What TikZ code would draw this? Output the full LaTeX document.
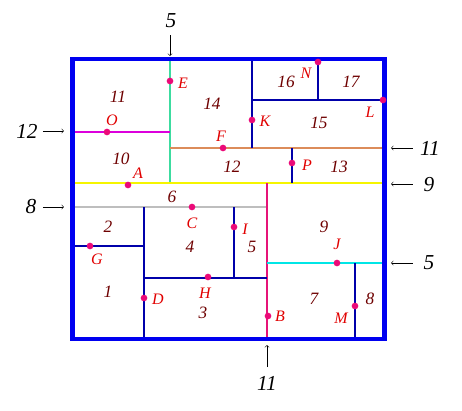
\documentclass[tikz,border=0pt]{standalone}
\usepackage{fontspec}
\setmainfont{Liberation Serif}
\usetikzlibrary{positioning}
\usepackage{xcolor}
\definecolor{frameblue}{RGB}{0,0,240}
\definecolor{wallblue}{RGB}{0,0,170}
\definecolor{dotpink}{RGB}{235,10,120}
\definecolor{letterred}{RGB}{225,0,0}
\definecolor{numred}{RGB}{110,0,0}
\definecolor{cutgreen}{RGB}{60,220,160}
\definecolor{cutmagenta}{RGB}{220,0,220}
\definecolor{cutpeach}{RGB}{220,140,90}
\definecolor{cutyellow}{RGB}{245,245,0}
\definecolor{cutgray}{RGB}{190,190,190}
\definecolor{cutpink}{RGB}{230,20,120}
\definecolor{cutcyan}{RGB}{0,230,230}

\begin{document}
\begin{tikzpicture}[
    x=0.75pt, y=-0.75pt,
    wall/.style={line width=1.5pt, color=wallblue},
    cut/.style={line width=1.6pt},
    pt/.style={circle, fill=dotpink, inner sep=0pt, minimum size=5pt},
    ptname/.style={text=letterred, font=\itshape\fontsize{12}{12}\selectfont, inner sep=0pt},
    region/.style={text=numred, font=\itshape\fontsize{13}{13}\selectfont, inner sep=0pt},
    cutno/.style={font=\itshape\fontsize{16}{16}\selectfont, inner sep=0pt},
    cutarrow/.style={->, thin, black},
]
\useasboundingbox (0,0) rectangle (462,411);

% cutting lines
\draw[cut, cutgreen] (170,59) -- (170,183);
\draw[cut, cutmagenta] (72,132) -- (170,132);
\draw[cut, cutpeach] (170,148) -- (385,148);
\draw[cut, cutyellow, line width=2pt] (72,183) -- (385,183);
\draw[cut, cutgray] (72,207) -- (267,207);
\draw[cut, cutpink] (267,183) -- (267,339);
\draw[cut, cutcyan] (267,263) -- (385,263);

% inner walls
\draw[wall] (252,59) -- (252,148);
\draw[wall] (252,100) -- (385,100);
\draw[wall] (318,59) -- (318,100);
\draw[wall] (292,148) -- (292,183);
\draw[wall] (72,246) -- (144,246);
\draw[wall] (144,207) -- (144,339);
\draw[wall] (144,278) -- (267,278);
\draw[wall] (234,207) -- (234,278);
\draw[wall] (355,263) -- (355,339);

% outer frame
\draw[line width=3.6pt, color=frameblue] (72.5,59) rectangle (384.7,339);

% region numbers
\node[region] (r1) at (108,292) {1};
\node[region] (r2) at (108,227) {2};
\node[region] (r3) at (203,313) {3};
\node[region] (r4) at (190,247) {4};
\node[region] (r5) at (252,247) {5};
\node[region] (r6) at (172,197) {6};
\node[region] (r7) at (314,299) {7};
\node[region] (r8) at (370,299) {8};
\node[region] (r9) at (324,227) {9};
\node[region] (r10) at (121,159) {10};
\node[region] (r11) at (118,97) {11};
\node[region] (r12) at (232,167) {12};
\node[region] (r13) at (339,167) {13};
\node[region] (r14) at (212,104) {14};
\node[region] (r15) at (319,123) {15};
\node[region] (r16) at (286,82) {16};
\node[region] (r17) at (351,82) {17};

% points
\node[pt] (A) at (128,185) {};
\node[pt] (B) at (268,316) {};
\node[pt] (C) at (192,207) {};
\node[pt] (D) at (144,298) {};
\node[pt] (E) at (170,81) {};
\node[pt] (F) at (223,148) {};
\node[pt] (G) at (90,246) {};
\node[pt] (H) at (208,277) {};
\node[pt] (I) at (234,227) {};
\node[pt] (J) at (337,263) {};
\node[pt] (K) at (252,120) {};
\node[pt] (L) at (383,100) {};
\node[pt] (M) at (355,306) {};
\node[pt] (N) at (318,62) {};
\node[pt] (O) at (107,132) {};
\node[pt] (P) at (292,163) {};

\node[ptname] (lA) at (138,173) {A};
\node[ptname] (lB) at (280,316) {B};
\node[ptname] (lC) at (192,223) {C};
\node[ptname] (lD) at (158,299) {D};
\node[ptname] (lE) at (183,83) {E};
\node[ptname] (lF) at (221,136) {F};
\node[ptname] (lG) at (97,259) {G};
\node[ptname] (lH) at (205,293) {H};
\node[ptname] (lI) at (245,229) {I};
\node[ptname] (lJ) at (337,244) {J};
\node[ptname] (lK) at (265,121) {K};
\node[ptname] (lL) at (370,112) {L};
\node[ptname] (lM) at (341,318) {M};
\node[ptname] (lN) at (306,73) {N};
\node[ptname] (lO) at (112,120) {O};
\node[ptname] (lP) at (307,165) {P};

% cut markers
\node[cutno] (top5) at (171,21) {5};
\node[cutno] (bot11) at (267,383) {11};
\node[cutno] (left12) at (27,131) {12};
\node[cutno] (left8) at (31,207) {8};
\node[cutno] (right11) at (430,148) {11};
\node[cutno] (right9) at (429,185) {9};
\node[cutno] (right5) at (429,263) {5};

\coordinate (top5e) at (170,56);
\coordinate (bot11e) at (267,345);
\coordinate (left12e) at (64,131);
\coordinate (left8e) at (64,207);
\coordinate (right11e) at (391,148);
\coordinate (right9e) at (391,184);
\coordinate (right5e) at (391,263);

\draw[cutarrow] (170,35) -- (top5e);
\draw[cutarrow] (267,367) -- (bot11e);
\draw[cutarrow] (43,131) -- (left12e);
\draw[cutarrow] (43,207) -- (left8e);
\draw[cutarrow] (413,148) -- (right11e);
\draw[cutarrow] (413,184) -- (right9e);
\draw[cutarrow] (413,263) -- (right5e);

\end{tikzpicture}
\end{document}
